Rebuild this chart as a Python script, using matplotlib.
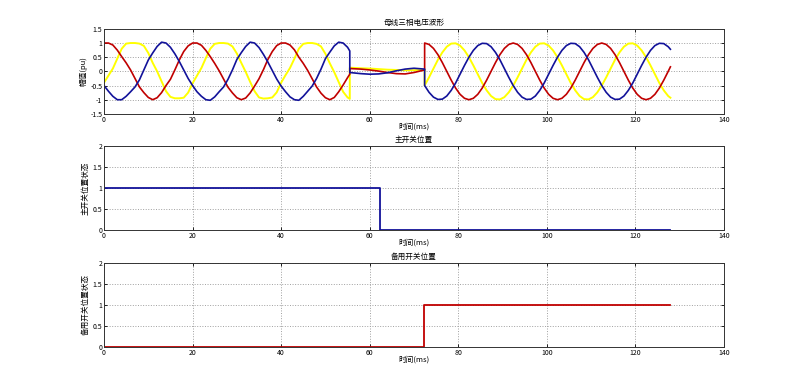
import numpy as np
import matplotlib
matplotlib.use("Agg")
import matplotlib.pyplot as plt

plt.rcParams['font.family'] = ['Noto Sans CJK SC', 'DejaVu Sans']
plt.rcParams['axes.unicode_minus'] = False

# ------------------------------------------------------------
# data (time in ms, voltage in pu)
# ------------------------------------------------------------
# pre-fault part, sampled every 1 ms from 0 to 55 ms, then 55.5 ms
pre_t = np.append(np.arange(0, 56, 1.0), 55.5)
pre_a = [1.00, 1.00, 0.93, 0.75, 0.52, 0.30, 0.05, -0.25, -0.55, -0.75,
         -0.92, -1.00, -0.93, -0.75, -0.50, -0.28, 0.05, 0.40, 0.70, 0.90,
         1.00, 1.00, 0.92, 0.74, 0.52, 0.28, 0.02, -0.27, -0.56, -0.76,
         -0.93, -1.00, -0.94, -0.76, -0.52, -0.26, 0.06, 0.42, 0.70, 0.91,
         1.00, 1.00, 0.93, 0.76, 0.50, 0.28, 0.03, -0.26, -0.55, -0.77,
         -0.93, -1.00, -0.92, -0.72, -0.48, -0.22, -0.10]
pre_b = [-0.40, -0.15, 0.10, 0.45, 0.80, 0.98, 1.00, 1.00, 0.98, 0.90,
         0.65, 0.30, 0.00, -0.35, -0.70, -0.90, -0.95, -0.95, -0.93, -0.75,
         -0.42, -0.15, 0.12, 0.47, 0.80, 0.97, 1.00, 1.00, 0.98, 0.88,
         0.63, 0.30, -0.02, -0.37, -0.70, -0.92, -0.96, -0.95, -0.92, -0.74,
         -0.40, -0.13, 0.12, 0.45, 0.80, 0.97, 1.00, 1.00, 0.97, 0.88,
         0.62, 0.28, -0.03, -0.38, -0.72, -0.92, -0.97]
pre_c = [-0.50, -0.70, -0.88, -1.00, -1.00, -0.88, -0.72, -0.55, -0.30, 0.05,
         0.40, 0.65, 0.88, 1.03, 1.00, 0.85, 0.62, 0.35, 0.05, -0.25,
         -0.50, -0.72, -0.88, -1.00, -1.02, -0.90, -0.72, -0.55, -0.28, 0.05,
         0.42, 0.66, 0.88, 1.03, 1.00, 0.84, 0.60, 0.33, 0.03, -0.27,
         -0.52, -0.72, -0.90, -1.00, -1.02, -0.88, -0.70, -0.52, -0.25, 0.08,
         0.45, 0.68, 0.90, 1.03, 1.00, 0.85, 0.72]

# fault / transfer gap
gap_t = [55.5, 58, 60, 62, 64, 66, 68, 70, 72.4]
gap_a = [0.10, 0.08, 0.05, 0.01, -0.04, -0.08, -0.09, -0.04, 0.05]
gap_b = [0.13, 0.11, 0.10, 0.08, 0.06, 0.05, 0.04, 0.04, 0.05]
gap_c = [-0.04, -0.08, -0.10, -0.09, -0.05, 0.02, 0.08, 0.11, 0.08]

# after the backup supply is connected
post_t = np.append(np.arange(72.4, 127.5, 1.0), 127.9)
post_a = [1.00, 0.95, 0.81, 0.59, 0.31, 0.00, -0.31, -0.59, -0.81, -0.95,
          -1.00, -0.95, -0.81, -0.59, -0.31, 0.00, 0.31, 0.59, 0.81, 0.95,
          1.00, 0.95, 0.81, 0.59, 0.31, 0.00, -0.31, -0.59, -0.81, -0.95,
          -1.00, -0.95, -0.81, -0.59, -0.31, 0.00, 0.31, 0.59, 0.81, 0.95,
          1.00, 0.95, 0.81, 0.59, 0.31, 0.00, -0.31, -0.59, -0.81, -0.95,
          -1.00, -0.95, -0.81, -0.59, -0.31, 0.00, 0.16]
post_b = [-0.50, -0.21, 0.10, 0.41, 0.67, 0.87, 0.98, 0.99, 0.91, 0.74,
          0.50, 0.21, -0.10, -0.41, -0.67, -0.87, -0.98, -0.99, -0.91, -0.74,
          -0.50, -0.21, 0.10, 0.41, 0.67, 0.87, 0.98, 0.99, 0.91, 0.74,
          0.50, 0.21, -0.10, -0.41, -0.67, -0.87, -0.98, -0.99, -0.91, -0.74,
          -0.50, -0.21, 0.10, 0.41, 0.67, 0.87, 0.98, 0.99, 0.91, 0.74,
          0.50, 0.21, -0.10, -0.41, -0.67, -0.87, -0.93]
post_c = [-0.50, -0.74, -0.91, -0.99, -0.98, -0.87, -0.67, -0.41, -0.10, 0.21,
          0.50, 0.74, 0.91, 0.99, 0.98, 0.87, 0.67, 0.41, 0.10, -0.21,
          -0.50, -0.74, -0.91, -0.99, -0.98, -0.87, -0.67, -0.41, -0.10, 0.21,
          0.50, 0.74, 0.91, 0.99, 0.98, 0.87, 0.67, 0.41, 0.10, -0.21,
          -0.50, -0.74, -0.91, -0.99, -0.98, -0.87, -0.67, -0.41, -0.10, 0.21,
          0.50, 0.74, 0.91, 0.99, 0.98, 0.87, 0.78]

# breaker states
main_t = [0, 62.3, 62.3, 127.9]
main_state = [1, 1, 0, 0]
backup_t = [0, 72.3, 72.3, 127.9]
backup_state = [0, 0, 1, 1]

titles = ['母线三相电压波形', '主开关位置', '备用开关位置']
ylabels = ['幅值(pu)', '主开关位置状态', '备用开关位置状态']
xlabel = '时间(ms)'

# ------------------------------------------------------------
fig = plt.figure(figsize=(8, 3.9), dpi=100)
boxes = [[0.13, 0.708, 0.775, 0.218],
         [0.13, 0.410, 0.775, 0.216],
         [0.13, 0.110, 0.775, 0.216]]
axes = [fig.add_axes(b) for b in boxes]

RED = '#c00000'
BLUE = '#12129a'
YEL = '#ffff00'

ta = np.concatenate([pre_t, gap_t, post_t])
ax = axes[0]
ax.plot(ta, np.concatenate([pre_b, gap_b, post_b]), color=YEL, lw=1.4)
ax.plot(ta, np.concatenate([pre_a, gap_a, post_a]), color=RED, lw=1.2)
ax.plot(ta, np.concatenate([pre_c, gap_c, post_c]), color=BLUE, lw=1.2)
ax.set_ylim(-1.5, 1.5)
ax.set_yticks([-1.5, -1, -0.5, 0, 0.5, 1, 1.5])
ax.set_yticklabels(['-1.5', '-1', '-0.5', '0', '0.5', '1', '1.5'])

axes[1].plot(main_t, main_state, color=BLUE, lw=1.3)
axes[2].plot(backup_t, backup_state, color=RED, lw=1.3)
for a in axes[1:]:
    a.set_ylim(0, 2)
    a.set_yticks([0, 0.5, 1, 1.5, 2])
    a.set_yticklabels(['0', '0.5', '1', '1.5', '2'])

for a, ttl, yl in zip(axes, titles, ylabels):
    a.set_xlim(0, 140)
    a.set_xticks(range(0, 141, 20))
    a.grid(True, linestyle=':', color='#a0a0a0', lw=0.7)
    a.set_title(ttl, fontsize=5.5, pad=3)
    a.set_xlabel(xlabel, fontsize=5.5, labelpad=-1)
    a.set_ylabel(yl, fontsize=5.5, labelpad=2)
    a.tick_params(direction='in', length=2.5, width=0.6, labelsize=5,
                  top=True, right=True, pad=1.2)
    for s in a.spines.values():
        s.set_linewidth(0.7)
        s.set_color('#333333')

fig.savefig('out.png', dpi=100)
